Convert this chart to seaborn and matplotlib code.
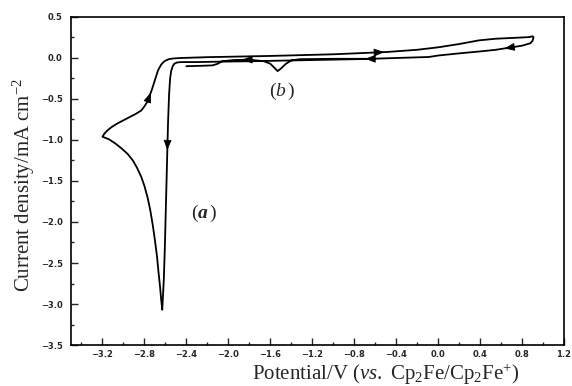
import numpy as np
import pandas as pd
import matplotlib
matplotlib.use("Agg")
import matplotlib.pyplot as plt
import seaborn as sns

# Cyclic voltammogram: potential (V vs. Cp2Fe/Cp2Fe+) and current density (mA cm^-2)
# Cathodic sweep from the rest region down to the deposition peak (a) and the -3.2 V vertex
cathodic_E = [-0.60, -1.00, -1.40, -1.80, -2.10, -2.30, -2.45, -2.49, -2.515, -2.53,
              -2.545, -2.555, -2.565, -2.575, -2.585, -2.595, -2.605, -2.615, -2.625, -2.63,
              -2.64, -2.65, -2.665, -2.68, -2.70, -2.72, -2.745, -2.77, -2.80, -2.83,
              -2.87, -2.91, -2.96, -3.02, -3.08, -3.14, -3.18, -3.20]
cathodic_j = [-0.01, -0.02, -0.03, -0.04, -0.045, -0.05, -0.05, -0.055, -0.07, -0.10,
              -0.16, -0.25, -0.45, -0.80, -1.30, -1.80, -2.30, -2.70, -2.95, -3.07,
              -2.95, -2.80, -2.62, -2.42, -2.22, -2.04, -1.85, -1.70, -1.56, -1.45,
              -1.34, -1.25, -1.17, -1.10, -1.04, -0.99, -0.97, -0.96]

# Anodic sweep from the vertex up to +0.9 V
anodic_E = [-3.18, -3.15, -3.11, -3.06, -3.00, -2.94, -2.88, -2.83, -2.80, -2.77,
            -2.75, -2.73, -2.71, -2.69, -2.67, -2.64, -2.61, -2.57, -2.52, -2.45,
            -2.20, -1.60, -1.00, -0.49, -0.20, 0.00, 0.20, 0.39, 0.55, 0.70,
            0.80, 0.87, 0.90, 0.91]
anodic_j = [-0.92, -0.88, -0.84, -0.80, -0.76, -0.72, -0.68, -0.64, -0.59, -0.53,
            -0.46, -0.39, -0.31, -0.23, -0.15, -0.08, -0.04, -0.015, -0.005, 0.00,
            0.01, 0.025, 0.045, 0.073, 0.10, 0.13, 0.17, 0.215, 0.235, 0.244,
            0.25, 0.255, 0.265, 0.25]

# Return sweep back to -2.4 V, showing the small reduction peak (b)
return_E = [0.90, 0.88, 0.80, 0.70, 0.55, 0.40, 0.23, 0.00, -0.09, -0.40,
            -0.64, -1.00, -1.32, -1.40, -1.45, -1.50, -1.53, -1.56, -1.60, -1.66,
            -1.80, -1.95, -2.06, -2.10, -2.15, -2.25, -2.40]
return_j = [0.21, 0.18, 0.15, 0.13, 0.10, 0.08, 0.06, 0.03, 0.012, 0.00,
            -0.01, -0.01, -0.015, -0.03, -0.07, -0.13, -0.16, -0.12, -0.07, -0.04,
            -0.02, -0.025, -0.04, -0.07, -0.09, -0.095, -0.10]

xticks = [-3.2, -2.8, -2.4, -2.0, -1.6, -1.2, -0.8, -0.4, 0.0, 0.4, 0.8, 1.2]
yticks = [0.5, 0.0, -0.5, -1.0, -1.5, -2.0, -2.5, -3.0, -3.5]

E = cathodic_E + anodic_E + return_E
j = cathodic_j + anodic_j + return_j
df = pd.DataFrame({"E": E, "j": j})

sns.set_theme(style="ticks")
plt.rcParams["font.family"] = ["Liberation Serif", "DejaVu Serif"]
plt.rcParams["mathtext.fontset"] = "custom"
plt.rcParams["mathtext.rm"] = "Liberation Serif"
plt.rcParams["mathtext.it"] = "Liberation Serif:italic"
plt.rcParams["mathtext.bf"] = "Liberation Serif:bold:italic"

fig = plt.figure(figsize=(5.72, 3.86), dpi=100)
ax = fig.add_axes([0.1241, 0.1062, 0.8619, 0.8498])

sns.lineplot(data=df, x="E", y="j", sort=False, estimator=None, color="black",
             linewidth=1.3, ax=ax)

# direction arrows placed on path segments
def seg_arrow(xs, ys, i, frac=0.5):
    x0, y0, x1, y1 = xs[i], ys[i], xs[i + 1], ys[i + 1]
    xm, ym = x0 + frac * (x1 - x0), y0 + frac * (y1 - y0)
    dx, dy = (x1 - x0) * 0.05, (y1 - y0) * 0.05
    ax.annotate("", xy=(xm + dx, ym + dy), xytext=(xm, ym),
                arrowprops=dict(arrowstyle="-|>,head_length=0.9,head_width=0.35",
                                mutation_scale=7, lw=0.6,
                                color="black", shrinkA=0, shrinkB=0))

seg_arrow(cathodic_E, cathodic_j, 13, 0.6)
seg_arrow(anodic_E, anodic_j, 10, 0.5)
seg_arrow(anodic_E, anodic_j, 22, 0.9)
seg_arrow(return_E, return_j, 3, 0.4)
seg_arrow(return_E, return_j, 10, 0.1)
seg_arrow(return_E, return_j, 20, 0.4)

ax.set_xlim(-3.5, 1.2)
ax.set_ylim(-3.5, 0.5)
ax.set_xticks(xticks)
ax.set_yticks(yticks)
ax.set_xticklabels([f"{v:.1f}".replace("-", "\u2212") for v in xticks])
ax.set_yticklabels([f"{v:.1f}".replace("-", "\u2212") for v in yticks])
ax.set_xticks(np.arange(-3.4, 1.21, 0.2), minor=True)
ax.set_yticks(np.arange(-3.5, 0.51, 0.25), minor=True)
ax.tick_params(which="both", direction="in", top=False, right=False,
               labelsize=6, width=1.0)
ax.tick_params(axis="x", pad=3.5)
ax.tick_params(axis="y", pad=6)
ax.tick_params(which="major", length=5)
ax.tick_params(which="minor", length=2.5)
for lab in ax.get_xticklabels() + ax.get_yticklabels():
    lab.set_family("DejaVu Sans")
    lab.set_weight("bold")
for s in ax.spines.values():
    s.set_visible(True)
    s.set_linewidth(1.2)
    s.set_color("black")

ax.set_xlabel("")
ax.set_ylabel("")
fig.text(0.675, 0.016, r"Potential/V ($\mathit{vs.}$ Cp$_2$Fe/Cp$_2$Fe$^{+}$)",
         ha="center", va="baseline", fontsize=15)
fig.text(0.042, 0.52, r"Current density/mA cm$^{-2}$", rotation=90,
         ha="center", va="center", fontsize=15)

ax.text(-2.23, -1.89, r"($\mathbf{a}\,$)", fontsize=14, ha="center", va="center")
ax.text(-1.49, -0.41, r"($\mathit{b}\,$)", fontsize=14, ha="center", va="center")

fig.savefig("out.png", dpi=100)
